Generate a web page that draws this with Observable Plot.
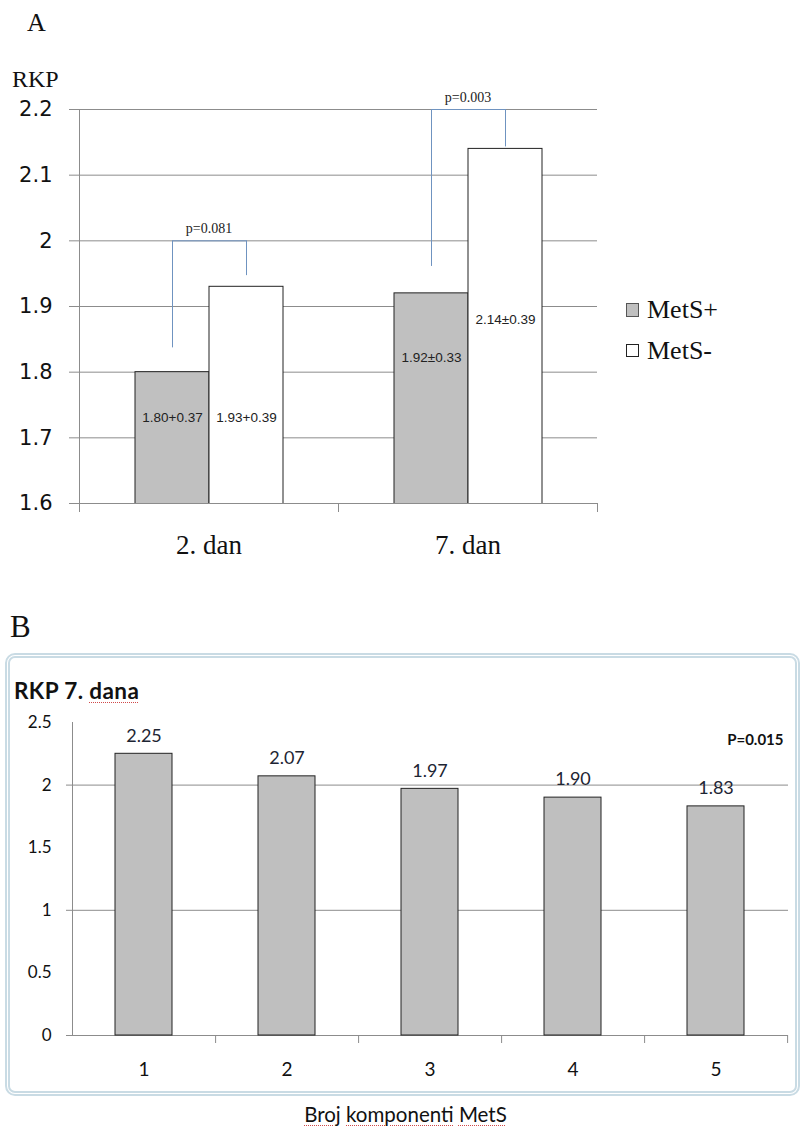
<!DOCTYPE html>
<html><head><meta charset="utf-8">
<script src="https://cdn.jsdelivr.net/npm/d3@7"></script>
<script src="https://cdn.jsdelivr.net/npm/@observablehq/plot@0.6"></script>
<style>
body{margin:0;background:#fff;width:803px;height:1130px;position:relative;overflow:hidden;}
.abs{position:absolute;white-space:nowrap;line-height:1;}
.serif{font-family:"Liberation Serif","Times New Roman",serif;color:#111;}
.sans{font-family:Lato,"Open Sans",sans-serif;color:#111;}
.spell{text-decoration:underline dotted #d04a4a;text-underline-offset:3px;text-decoration-thickness:1px;}
#chartA,#chartB{position:absolute;left:0;}
#chartA{top:0;}
#chartB{top:655px;}
#frameB{position:absolute;left:5px;top:653px;width:785px;height:433px;border:5px double #c9dbe4;border-radius:10px;}
</style></head><body>
<div id="frameB"></div>
<div id="chartA"></div>
<div id="chartB"></div>
<div class="abs serif" style="left:27px;top:10px;font-size:26px;">A</div>
<div class="abs serif" style="left:12px;top:67px;font-size:24px;">RKP</div>
<div class="abs" style="left:626px;top:303px;width:11px;height:12px;background:#c0c0c0;border:1px solid #555;"></div>
<div class="abs serif" style="left:647px;top:297px;font-size:26px;">MetS+</div>
<div class="abs" style="left:626px;top:344px;width:11px;height:11px;background:#fff;border:1px solid #222;"></div>
<div class="abs serif" style="left:647px;top:338px;font-size:26px;">MetS-</div>
<div class="abs serif" style="left:10px;top:611px;font-size:31px;">B</div>
<div class="abs sans" style="left:14px;top:680px;font-size:22.5px;font-weight:bold;letter-spacing:0.4px;">RKP 7. <span class="spell">dana</span></div>
<div class="abs sans" style="left:0;top:1104px;width:811px;text-align:center;font-size:20.5px;"><span class="spell">Broj</span> <span class="spell">komponenti</span> <span class="spell">MetS</span></div>
<script>
// ---------- Panel A data ----------
const days = ["2. dan", "7. dan"];
const groups = ["MetS+", "MetS-"];
const valuesMetSPlus = [1.80, 1.92];
const valuesMetSMinus = [1.93, 2.14];
const labelsMetSPlus = ["1.80+0.37", "1.92±0.33"];
const labelsMetSMinus = ["1.93+0.39", "2.14±0.39"];
const labelYMetSPlus = [1.73, 1.822];
const labelYMetSMinus = [1.73, 1.88];
const pValuesA = ["p=0.081", "p=0.003"];
const bracketTop = [2.0, 2.2];
const bracketLeftEnd = [1.837, 1.961];
const bracketRightEnd = [1.947, 2.143];
const yTicksA = [1.6, 1.7, 1.8, 1.9, 2.0, 2.1, 2.2];
const yTickLabelsA = ["1.6", "1.7", "1.8", "1.9", "2", "2.1", "2.2"];

// ---------- Panel B data ----------
const componentsB = ["1", "2", "3", "4", "5"];
const valuesB = [2.25, 2.07, 1.97, 1.90, 1.83];
const yTicksB = [0, 0.5, 1, 1.5, 2, 2.5];
const yTickLabelsB = ["0", "0.5", "1", "1.5", "2", "2.5"];
const gridB = [0, 1, 2];
const pValueB = "P=0.015";

// ---------- Panel A ----------
const rowsA = days.flatMap((d, i) => [
  {day: d, group: groups[0], value: valuesMetSPlus[i], label: labelsMetSPlus[i], ly: labelYMetSPlus[i]},
  {day: d, group: groups[1], value: valuesMetSMinus[i], label: labelsMetSMinus[i], ly: labelYMetSMinus[i]}
]);
const brackets = days.map((d, i) => ({day: d, top: bracketTop[i], l: bracketLeftEnd[i], r: bracketRightEnd[i], p: pValuesA[i]}));

const widthA = 803, mlA = 79, mrA = 206;
const facetStepA = (widthA - mlA - mrA) / days.length;
const grid = "#8c8c8c", bracketColor = "#6f93c0";

const plotA = Plot.plot({
  width: widthA, height: 580,
  marginTop: 109, marginBottom: 77, marginLeft: mlA, marginRight: mrA,
  style: {fontFamily: "'Liberation Serif', serif", background: "transparent", overflow: "visible", color: "#111"},
  fx: {domain: days, padding: 0, label: null},
  x: {domain: groups, paddingInner: 0, paddingOuter: 0.738, axis: null},
  y: {domain: [1.6, 2.2], axis: null},
  color: {domain: groups, range: ["#c0c0c0", "#ffffff"]},
  marks: [
    Plot.ruleY(yTicksA, {stroke: grid, strokeWidth: 1}),
    Plot.frame({anchor: "left", facet: "super", stroke: grid}),
    Plot.axisY({ticks: yTicksA, tickFormat: d => yTickLabelsA[yTicksA.findIndex(t => Math.abs(t - d) < 1e-9)], tickSize: 10, tickPadding: 17, fontSize: 21, fontFamily: "DejaVu Sans", color: "#111", stroke: grid, label: null}),
    Plot.axisFx({anchor: "bottom", tickSize: 0, tickPadding: 31, fontSize: 27, color: "#111", label: null}),
    Plot.axisFx({anchor: "bottom", tickSize: 9, dx: facetStepA / 2, tickFormat: () => "", stroke: grid, label: null}),
    Plot.axisFx({anchor: "bottom", tickSize: 9, dx: -facetStepA / 2, tickFormat: () => "", stroke: grid, label: null}),
    Plot.barY(rowsA, {fx: "day", x: "group", y: "value", fill: "group", stroke: "#222", strokeWidth: 1, clip: true}),
    Plot.ruleX(brackets, {fx: "day", x: () => groups[0], y1: "top", y2: "l", stroke: bracketColor}),
    Plot.ruleX(brackets, {fx: "day", x: () => groups[1], y1: "top", y2: "r", stroke: bracketColor}),
    Plot.link(brackets, {fx: "day", x1: () => groups[0], x2: () => groups[1], y1: "top", y2: "top", stroke: bracketColor}),
    Plot.text(brackets, {fx: "day", y: "top", text: "p", dy: -12, fontSize: 14, fill: "#222"}),
    Plot.text(rowsA, {fx: "day", x: "group", y: "ly", text: "label", fontSize: 13.5, fontFamily: "'Liberation Sans', Arial, sans-serif", fill: "#222"})
  ]
});
document.getElementById("chartA").appendChild(plotA);

// ---------- Panel B ----------
const rowsB = componentsB.map((c, i) => ({c, v: valuesB[i]}));
const widthB = 803, mlB = 72, mrB = 15;
const stepB = (widthB - mlB - mrB) / componentsB.length;

const plotB = Plot.plot({
  width: widthB, height: 440,
  marginTop: 67, marginBottom: 60, marginLeft: mlB, marginRight: mrB,
  style: {fontFamily: "Lato, 'Open Sans', sans-serif", background: "transparent", overflow: "visible", color: "#111"},
  x: {domain: componentsB, paddingInner: 0.6, paddingOuter: 0.3, axis: null},
  y: {domain: [0, 2.5], axis: null},
  marks: [
    Plot.ruleY(gridB, {stroke: grid}),
    Plot.frame({anchor: "left", stroke: grid}),
    Plot.axisY({ticks: gridB, tickSize: 6, tickFormat: () => "", stroke: grid, label: null}),
    Plot.axisY({ticks: yTicksB, tickSize: 0, tickPadding: 21, tickFormat: d => yTickLabelsB[yTicksB.findIndex(t => Math.abs(t - d) < 1e-9)], fontSize: 17, color: "#111", label: null}),
    Plot.axisX({tickSize: 0, tickPadding: 27, fontSize: 19, color: "#111", label: null}),
    Plot.axisX({tickSize: 8, dx: stepB / 2, tickFormat: () => "", stroke: grid, label: null}),
    Plot.barY(rowsB, {x: "c", y: "v", fill: "#bfbfbf", stroke: "#222", strokeWidth: 1}),
    Plot.text(rowsB, {x: "c", y: "v", text: d => d.v.toFixed(2), dy: -18, fontSize: 18, fill: "#1e2533"}),
    Plot.text([pValueB], {frameAnchor: "top-right", text: d => d, textAnchor: "end", lineAnchor: "middle", dx: -5, dy: 18, fontWeight: "bold", fontSize: 15, fill: "#111"})
  ]
});
document.getElementById("chartB").appendChild(plotB);
</script>
</body></html>
